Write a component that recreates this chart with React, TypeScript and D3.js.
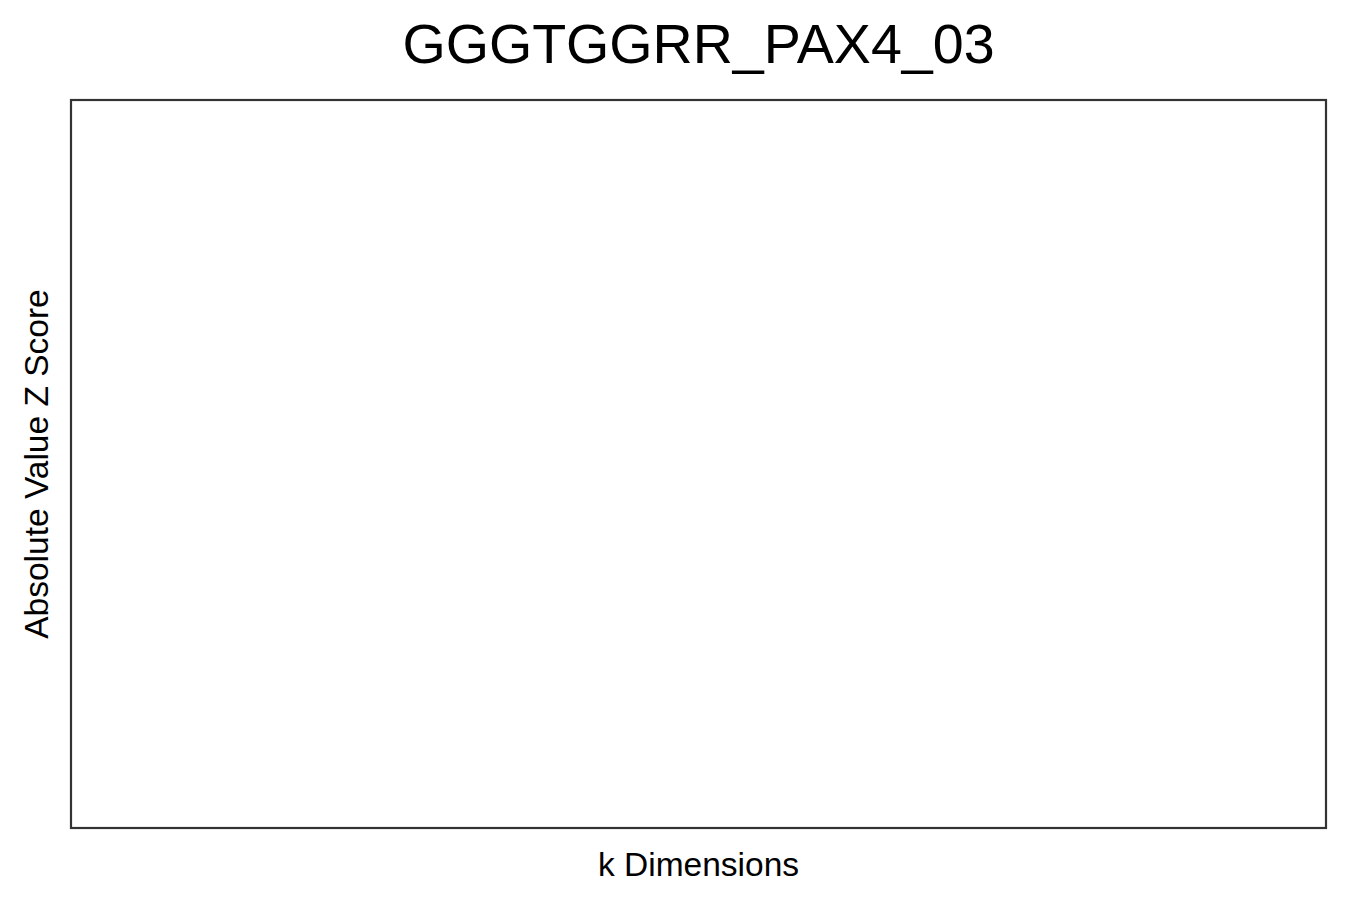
import React, { useRef, useEffect } from 'react';
import * as d3 from 'd3';

// the reference panel holds no marks: only the frame, title and axis labels
const chartTitle = 'GGGTGGRR_PAX4_03';
const xLabel = 'k Dimensions';
const yLabel = 'Absolute Value Z Score';
const kValues: number[] = [];
const zScores: number[] = [];

const App: React.FC = () => {
  const svgRef = useRef<SVGSVGElement | null>(null);

  useEffect(() => {
    const svg = d3.select(svgRef.current);
    svg.selectAll('*').remove();
    const width = 1350;
    const height = 900;
    const margin = { top: 100, right: 24, bottom: 72, left: 71 };

    const x = d3
      .scaleLinear()
      .domain(kValues.length ? (d3.extent(kValues) as [number, number]) : [0, 1])
      .range([margin.left, width - margin.right]);

    const y = d3
      .scaleLinear()
      .domain(zScores.length ? [0, d3.max(zScores) as number] : [0, 1])
      .range([height - margin.bottom, margin.top]);

    svg.append('rect')
      .attr('width', width)
      .attr('height', height)
      .attr('fill', '#ffffff');

    // panel frame
    svg.append('rect')
      .attr('x', x.range()[0])
      .attr('y', y.range()[1])
      .attr('width', x.range()[1] - x.range()[0])
      .attr('height', y.range()[0] - y.range()[1])
      .attr('fill', 'none')
      .attr('stroke', '#333333')
      .attr('stroke-width', 2.2);

    // Add header
    svg.append('text')
      .attr('x', (x.range()[0] + x.range()[1]) / 2)
      .attr('y', 63)
      .attr('text-anchor', 'middle')
      .style('font-family', 'Liberation Sans, Arial, sans-serif')
      .style('font-size', '55.6px')
      .style('fill', 'black')
      .text(chartTitle);

    svg.append('text')
      .attr('x', (x.range()[0] + x.range()[1]) / 2)
      .attr('y', 876)
      .attr('text-anchor', 'middle')
      .style('font-family', 'Liberation Sans, Arial, sans-serif')
      .style('font-size', '33.5px')
      .style('fill', 'black')
      .text(xLabel);

    svg.append('text')
      .attr('transform', `translate(48,${(y.range()[0] + y.range()[1]) / 2}) rotate(-90)`)
      .attr('text-anchor', 'middle')
      .style('font-family', 'Liberation Sans, Arial, sans-serif')
      .style('font-size', '33.5px')
      .style('fill', 'black')
      .text(yLabel);
  }, []);

  return (
    <svg
      ref={svgRef}
      width={1350}
      height={900}
      style={{ position: 'absolute', left: 0, top: 0, display: 'block' }}
    ></svg>
  );
};

export default App;
